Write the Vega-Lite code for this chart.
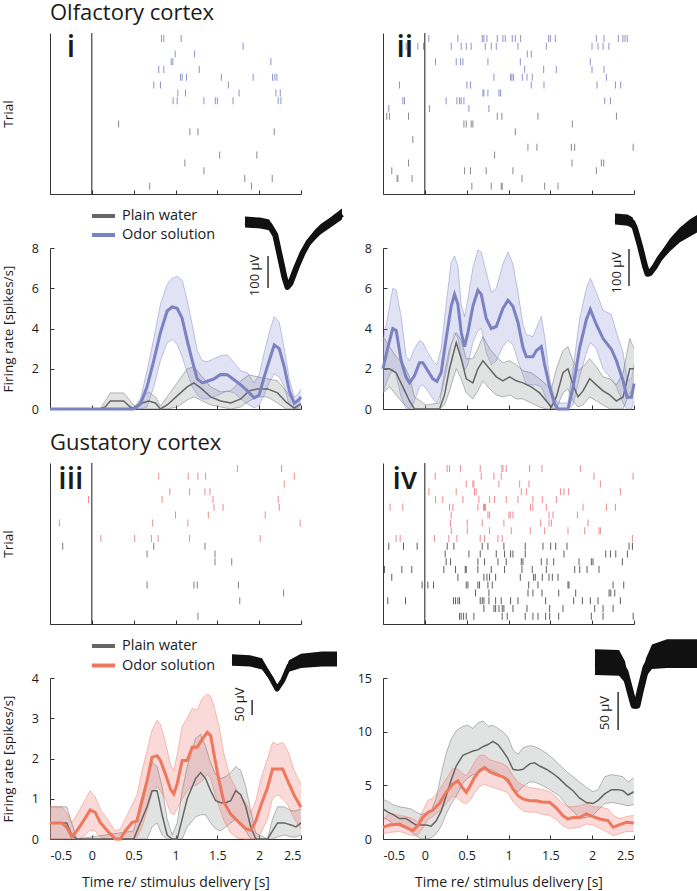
{
"$schema":"https://vega.github.io/schema/vega-lite/v6.json",
"padding":{"left":1,"top":1,"right":0,"bottom":0},
"bounds":"flush",
"columns":2,
"spacing":{"row":54,"column":82},
"resolve":{"scale":{"color":"independent","fill":"independent"},"legend":{"color":"independent","fill":"independent"}},
"config":{
 "font":"Open Sans",
 "view":{"stroke":null},
 "axis":{"grid":false,"domainColor":"#333","domainWidth":1,"tickColor":"#333","tickSize":-4,"labelColor":"#1a1a1a","labelFontSize":12.5,"titleColor":"#1a1a1a","titleFontSize":13.5,"titleFontWeight":"normal"},
 "axisX":{"labelPadding":14.5},
 "axisY":{"labelPadding":15.5}
},
"datasets":{
"raster":[
{"p":"i","k":1,"c":"o","t":0.832},{"p":"i","k":1,"c":"o","t":0.86},{"p":"i","k":1,"c":"o","t":1.068},
{"p":"i","k":2,"c":"o","t":1.808},
{"p":"i","k":3,"c":"o","t":0.996},{"p":"i","k":3,"c":"o","t":1.228},
{"p":"i","k":4,"c":"o","t":0.948},{"p":"i","k":4,"c":"o","t":0.968},{"p":"i","k":4,"c":"o","t":2.14},
{"p":"i","k":5,"c":"o","t":0.8},{"p":"i","k":5,"c":"o","t":0.86},{"p":"i","k":5,"c":"o","t":1.284},
{"p":"i","k":6,"c":"o","t":1.06},{"p":"i","k":6,"c":"o","t":1.08},{"p":"i","k":6,"c":"o","t":1.132},{"p":"i","k":6,"c":"o","t":1.548},{"p":"i","k":6,"c":"o","t":1.928},{"p":"i","k":6,"c":"o","t":2.16},{"p":"i","k":6,"c":"o","t":2.188},{"p":"i","k":6,"c":"o","t":2.212},
{"p":"i","k":7,"c":"o","t":0.74},{"p":"i","k":7,"c":"o","t":0.82},{"p":"i","k":7,"c":"o","t":1.632},
{"p":"i","k":8,"c":"o","t":1.028},{"p":"i","k":8,"c":"o","t":1.12},{"p":"i","k":8,"c":"o","t":1.76},{"p":"i","k":8,"c":"o","t":2.2},{"p":"i","k":8,"c":"o","t":2.252},
{"p":"i","k":9,"c":"o","t":0.972},{"p":"i","k":9,"c":"o","t":1.02},{"p":"i","k":9,"c":"o","t":1.34},{"p":"i","k":9,"c":"o","t":1.476},{"p":"i","k":9,"c":"o","t":1.5},{"p":"i","k":9,"c":"o","t":1.688},{"p":"i","k":9,"c":"o","t":2.228},{"p":"i","k":9,"c":"o","t":2.26},
{"p":"i","k":12,"c":"w","t":0.32},
{"p":"i","k":13,"c":"w","t":1.172},{"p":"i","k":13,"c":"w","t":1.268},{"p":"i","k":13,"c":"w","t":2.18},
{"p":"i","k":16,"c":"w","t":1.528},{"p":"i","k":16,"c":"w","t":1.972},
{"p":"i","k":17,"c":"w","t":1.112},
{"p":"i","k":18,"c":"w","t":1.34},
{"p":"i","k":19,"c":"w","t":1.828},{"p":"i","k":19,"c":"w","t":2.156},
{"p":"i","k":20,"c":"w","t":0.692},{"p":"i","k":20,"c":"w","t":1.908},

{"p":"ii","k":1,"c":"o","t":0.048},{"p":"ii","k":1,"c":"o","t":0.395},{"p":"ii","k":1,"c":"o","t":0.686},{"p":"ii","k":1,"c":"o","t":0.706},{"p":"ii","k":1,"c":"o","t":0.742},{"p":"ii","k":1,"c":"o","t":0.866},{"p":"ii","k":1,"c":"o","t":0.933},{"p":"ii","k":1,"c":"o","t":0.961},{"p":"ii","k":1,"c":"o","t":1.045},{"p":"ii","k":1,"c":"o","t":1.081},{"p":"ii","k":1,"c":"o","t":1.145},{"p":"ii","k":1,"c":"o","t":1.48},{"p":"ii","k":1,"c":"o","t":1.5},{"p":"ii","k":1,"c":"o","t":1.56},{"p":"ii","k":1,"c":"o","t":2.05},{"p":"ii","k":1,"c":"o","t":2.142},{"p":"ii","k":1,"c":"o","t":2.313},{"p":"ii","k":1,"c":"o","t":2.367},{"p":"ii","k":1,"c":"o","t":2.393},{"p":"ii","k":1,"c":"o","t":2.42},
{"p":"ii","k":2,"c":"o","t":-0.223},{"p":"ii","k":2,"c":"o","t":-0.183},{"p":"ii","k":2,"c":"o","t":-0.084},{"p":"ii","k":2,"c":"o","t":-0.016},{"p":"ii","k":2,"c":"o","t":0.315},{"p":"ii","k":2,"c":"o","t":0.435},{"p":"ii","k":2,"c":"o","t":0.495},{"p":"ii","k":2,"c":"o","t":0.554},{"p":"ii","k":2,"c":"o","t":0.722},{"p":"ii","k":2,"c":"o","t":0.794},{"p":"ii","k":2,"c":"o","t":0.854},{"p":"ii","k":2,"c":"o","t":1.113},{"p":"ii","k":2,"c":"o","t":1.452},{"p":"ii","k":2,"c":"o","t":1.998},{"p":"ii","k":2,"c":"o","t":2.07},{"p":"ii","k":2,"c":"o","t":2.13},{"p":"ii","k":2,"c":"o","t":2.2},
{"p":"ii","k":3,"c":"o","t":1.224},{"p":"ii","k":3,"c":"o","t":1.272},
{"p":"ii","k":4,"c":"o","t":0.128},{"p":"ii","k":4,"c":"o","t":0.375},{"p":"ii","k":4,"c":"o","t":0.427},{"p":"ii","k":4,"c":"o","t":0.455},{"p":"ii","k":4,"c":"o","t":0.754},{"p":"ii","k":4,"c":"o","t":1.141},{"p":"ii","k":4,"c":"o","t":1.978},
{"p":"ii","k":5,"c":"o","t":1.193},{"p":"ii","k":5,"c":"o","t":1.42},{"p":"ii","k":5,"c":"o","t":1.572},{"p":"ii","k":5,"c":"o","t":1.998},{"p":"ii","k":5,"c":"o","t":2.142},
{"p":"ii","k":6,"c":"o","t":0.826},{"p":"ii","k":6,"c":"o","t":1.025},{"p":"ii","k":6,"c":"o","t":1.041},{"p":"ii","k":6,"c":"o","t":1.061},{"p":"ii","k":6,"c":"o","t":1.165},{"p":"ii","k":6,"c":"o","t":1.221},{"p":"ii","k":6,"c":"o","t":1.284},{"p":"ii","k":6,"c":"o","t":2.17},
{"p":"ii","k":7,"c":"o","t":-0.303},{"p":"ii","k":7,"c":"o","t":0.503},{"p":"ii","k":7,"c":"o","t":0.546},{"p":"ii","k":7,"c":"o","t":1.272},{"p":"ii","k":7,"c":"o","t":1.424},{"p":"ii","k":7,"c":"o","t":2.058},{"p":"ii","k":7,"c":"o","t":2.278},{"p":"ii","k":7,"c":"o","t":2.341},
{"p":"ii","k":8,"c":"o","t":0.694},{"p":"ii","k":8,"c":"o","t":0.706},{"p":"ii","k":8,"c":"o","t":0.754},{"p":"ii","k":8,"c":"o","t":0.886},{"p":"ii","k":8,"c":"o","t":0.905},
{"p":"ii","k":9,"c":"o","t":-0.263},{"p":"ii","k":9,"c":"o","t":-0.243},{"p":"ii","k":9,"c":"o","t":0.255},{"p":"ii","k":9,"c":"o","t":0.383},{"p":"ii","k":9,"c":"o","t":0.415},{"p":"ii","k":9,"c":"o","t":0.435},{"p":"ii","k":9,"c":"o","t":0.467},{"p":"ii","k":9,"c":"o","t":2.15},{"p":"ii","k":9,"c":"o","t":2.218},
{"p":"ii","k":10,"c":"o","t":-0.431},{"p":"ii","k":10,"c":"o","t":0.056},{"p":"ii","k":10,"c":"o","t":0.527},{"p":"ii","k":10,"c":"o","t":0.766},
{"p":"ii","k":11,"c":"w","t":-0.455},{"p":"ii","k":11,"c":"w","t":-0.423},{"p":"ii","k":11,"c":"w","t":-0.195},{"p":"ii","k":11,"c":"w","t":0.866},{"p":"ii","k":11,"c":"w","t":0.921},{"p":"ii","k":11,"c":"w","t":1.352},{"p":"ii","k":11,"c":"w","t":2.29},
{"p":"ii","k":12,"c":"w","t":0.467},{"p":"ii","k":12,"c":"w","t":0.495},{"p":"ii","k":12,"c":"w","t":0.554},{"p":"ii","k":12,"c":"w","t":0.574},{"p":"ii","k":12,"c":"w","t":1.763},
{"p":"ii","k":13,"c":"w","t":1.081},
{"p":"ii","k":14,"c":"w","t":-0.144},
{"p":"ii","k":15,"c":"w","t":1.232},{"p":"ii","k":15,"c":"w","t":1.34},{"p":"ii","k":15,"c":"w","t":1.751},{"p":"ii","k":15,"c":"w","t":1.791},{"p":"ii","k":15,"c":"w","t":2.49},
{"p":"ii","k":16,"c":"w","t":0.834},
{"p":"ii","k":17,"c":"w","t":-0.195},{"p":"ii","k":17,"c":"w","t":1.759},{"p":"ii","k":17,"c":"w","t":2.11},{"p":"ii","k":17,"c":"w","t":2.138},
{"p":"ii","k":18,"c":"w","t":-0.395},{"p":"ii","k":18,"c":"w","t":0.475},{"p":"ii","k":18,"c":"w","t":0.546},{"p":"ii","k":18,"c":"w","t":0.734},{"p":"ii","k":18,"c":"w","t":1.053},{"p":"ii","k":18,"c":"w","t":2.05},
{"p":"ii","k":19,"c":"w","t":-0.331},{"p":"ii","k":19,"c":"w","t":-0.323},{"p":"ii","k":19,"c":"w","t":-0.152},{"p":"ii","k":19,"c":"w","t":1.161},
{"p":"ii","k":20,"c":"w","t":0.562},{"p":"ii","k":20,"c":"w","t":0.794},{"p":"ii","k":20,"c":"w","t":0.913},{"p":"ii","k":20,"c":"w","t":0.925},{"p":"ii","k":20,"c":"w","t":1.432},{"p":"ii","k":20,"c":"w","t":1.592},

{"p":"iii","k":1,"c":"o","t":1.74},{"p":"iii","k":1,"c":"o","t":2.268},
{"p":"iii","k":2,"c":"o","t":0.8},{"p":"iii","k":2,"c":"o","t":1.152},{"p":"iii","k":2,"c":"o","t":1.268},{"p":"iii","k":2,"c":"o","t":1.36},{"p":"iii","k":2,"c":"o","t":2.42},
{"p":"iii","k":3,"c":"o","t":2.3},
{"p":"iii","k":4,"c":"o","t":0.932},{"p":"iii","k":4,"c":"o","t":1.168},{"p":"iii","k":4,"c":"o","t":1.352},{"p":"iii","k":4,"c":"o","t":1.412},
{"p":"iii","k":5,"c":"o","t":-0.04},{"p":"iii","k":5,"c":"o","t":0.84},{"p":"iii","k":5,"c":"o","t":1.448},{"p":"iii","k":5,"c":"o","t":2.228},
{"p":"iii","k":6,"c":"o","t":1.46},{"p":"iii","k":6,"c":"o","t":1.568},{"p":"iii","k":6,"c":"o","t":2.24},
{"p":"iii","k":7,"c":"o","t":1.0},{"p":"iii","k":7,"c":"o","t":1.392},{"p":"iii","k":7,"c":"o","t":2.072},
{"p":"iii","k":8,"c":"o","t":-0.388},{"p":"iii","k":8,"c":"o","t":0.728},{"p":"iii","k":8,"c":"o","t":1.148},{"p":"iii","k":8,"c":"o","t":2.49},
{"p":"iii","k":10,"c":"o","t":0.108},{"p":"iii","k":10,"c":"o","t":0.512},{"p":"iii","k":10,"c":"o","t":0.712},{"p":"iii","k":10,"c":"o","t":0.792},{"p":"iii","k":10,"c":"o","t":1.168},{"p":"iii","k":10,"c":"o","t":2.012},
{"p":"iii","k":11,"c":"w","t":-0.348},{"p":"iii","k":11,"c":"w","t":0.74},{"p":"iii","k":11,"c":"w","t":1.352},
{"p":"iii","k":12,"c":"w","t":0.66},{"p":"iii","k":12,"c":"w","t":1.472},
{"p":"iii","k":13,"c":"w","t":1.472},{"p":"iii","k":13,"c":"w","t":1.672},
{"p":"iii","k":16,"c":"w","t":0.66},{"p":"iii","k":16,"c":"w","t":1.22},{"p":"iii","k":16,"c":"w","t":1.26},{"p":"iii","k":16,"c":"w","t":1.752},
{"p":"iii","k":17,"c":"w","t":2.292},
{"p":"iii","k":18,"c":"w","t":1.768},
{"p":"iii","k":20,"c":"w","t":1.268},

{"p":"iv","k":1,"c":"o","t":0.267},{"p":"iv","k":1,"c":"o","t":0.295},{"p":"iv","k":1,"c":"o","t":0.427},{"p":"iv","k":1,"c":"o","t":0.662},{"p":"iv","k":1,"c":"o","t":0.921},{"p":"iv","k":1,"c":"o","t":0.933},{"p":"iv","k":1,"c":"o","t":0.973},{"p":"iv","k":1,"c":"o","t":1.252},{"p":"iv","k":1,"c":"o","t":1.4},{"p":"iv","k":1,"c":"o","t":1.863},
{"p":"iv","k":2,"c":"o","t":0.124},{"p":"iv","k":2,"c":"o","t":0.674},{"p":"iv","k":2,"c":"o","t":0.826},{"p":"iv","k":2,"c":"o","t":0.913},{"p":"iv","k":2,"c":"o","t":2.022},{"p":"iv","k":2,"c":"o","t":2.489},
{"p":"iv","k":3,"c":"o","t":0.495},{"p":"iv","k":3,"c":"o","t":0.574},{"p":"iv","k":3,"c":"o","t":0.586},{"p":"iv","k":3,"c":"o","t":0.886},{"p":"iv","k":3,"c":"o","t":1.133},{"p":"iv","k":3,"c":"o","t":1.245},{"p":"iv","k":3,"c":"o","t":2.098},
{"p":"iv","k":4,"c":"o","t":0.048},{"p":"iv","k":4,"c":"o","t":0.375},{"p":"iv","k":4,"c":"o","t":0.594},{"p":"iv","k":4,"c":"o","t":0.614},{"p":"iv","k":4,"c":"o","t":1.153},{"p":"iv","k":4,"c":"o","t":1.213},{"p":"iv","k":4,"c":"o","t":1.623},{"p":"iv","k":4,"c":"o","t":1.663},{"p":"iv","k":4,"c":"o","t":1.719},{"p":"iv","k":4,"c":"o","t":2.337},
{"p":"iv","k":5,"c":"o","t":0.128},{"p":"iv","k":5,"c":"o","t":0.215},{"p":"iv","k":5,"c":"o","t":0.455},{"p":"iv","k":5,"c":"o","t":0.646},{"p":"iv","k":5,"c":"o","t":0.774},{"p":"iv","k":5,"c":"o","t":0.834},{"p":"iv","k":5,"c":"o","t":0.973},{"p":"iv","k":5,"c":"o","t":1.113},{"p":"iv","k":5,"c":"o","t":1.292},{"p":"iv","k":5,"c":"o","t":1.404},{"p":"iv","k":5,"c":"o","t":1.572},
{"p":"iv","k":6,"c":"o","t":-0.415},{"p":"iv","k":6,"c":"o","t":-0.263},{"p":"iv","k":6,"c":"o","t":0.295},{"p":"iv","k":6,"c":"o","t":0.335},{"p":"iv","k":6,"c":"o","t":0.634},{"p":"iv","k":6,"c":"o","t":0.702},{"p":"iv","k":6,"c":"o","t":0.714},{"p":"iv","k":6,"c":"o","t":0.726},{"p":"iv","k":6,"c":"o","t":1.264},{"p":"iv","k":6,"c":"o","t":1.292},{"p":"iv","k":6,"c":"o","t":1.452},{"p":"iv","k":6,"c":"o","t":1.891},{"p":"iv","k":6,"c":"o","t":2.17},{"p":"iv","k":6,"c":"o","t":2.278},
{"p":"iv","k":7,"c":"o","t":0.315},{"p":"iv","k":7,"c":"o","t":0.754},{"p":"iv","k":7,"c":"o","t":0.774},{"p":"iv","k":7,"c":"o","t":1.005},{"p":"iv","k":7,"c":"o","t":1.021},{"p":"iv","k":7,"c":"o","t":1.053},{"p":"iv","k":7,"c":"o","t":1.484},{"p":"iv","k":7,"c":"o","t":1.532},{"p":"iv","k":7,"c":"o","t":1.823},
{"p":"iv","k":8,"c":"o","t":0.307},{"p":"iv","k":8,"c":"o","t":0.507},{"p":"iv","k":8,"c":"o","t":0.686},{"p":"iv","k":8,"c":"o","t":0.945},{"p":"iv","k":8,"c":"o","t":1.384},{"p":"iv","k":8,"c":"o","t":1.484},{"p":"iv","k":8,"c":"o","t":1.512},{"p":"iv","k":8,"c":"o","t":1.951},
{"p":"iv","k":9,"c":"o","t":0.315},{"p":"iv","k":9,"c":"o","t":0.507},{"p":"iv","k":9,"c":"o","t":0.774},{"p":"iv","k":9,"c":"o","t":1.033},{"p":"iv","k":9,"c":"o","t":1.26},{"p":"iv","k":9,"c":"o","t":1.432},{"p":"iv","k":9,"c":"o","t":1.711},{"p":"iv","k":9,"c":"o","t":1.911},{"p":"iv","k":9,"c":"o","t":2.082},{"p":"iv","k":9,"c":"o","t":2.098},
{"p":"iv","k":10,"c":"o","t":-0.343},{"p":"iv","k":10,"c":"o","t":-0.295},{"p":"iv","k":10,"c":"o","t":0.116},{"p":"iv","k":10,"c":"o","t":0.287},{"p":"iv","k":10,"c":"o","t":0.383},{"p":"iv","k":10,"c":"o","t":0.662},{"p":"iv","k":10,"c":"o","t":0.714},{"p":"iv","k":10,"c":"o","t":0.874},{"p":"iv","k":10,"c":"o","t":0.925},{"p":"iv","k":10,"c":"o","t":2.481},
{"p":"iv","k":11,"c":"w","t":-0.431},{"p":"iv","k":11,"c":"w","t":-0.255},{"p":"iv","k":11,"c":"w","t":-0.092},{"p":"iv","k":11,"c":"w","t":0.267},{"p":"iv","k":11,"c":"w","t":0.347},{"p":"iv","k":11,"c":"w","t":0.686},{"p":"iv","k":11,"c":"w","t":0.754},{"p":"iv","k":11,"c":"w","t":0.945},{"p":"iv","k":11,"c":"w","t":1.2},{"p":"iv","k":11,"c":"w","t":1.412},{"p":"iv","k":11,"c":"w","t":1.504},{"p":"iv","k":11,"c":"w","t":1.564},{"p":"iv","k":11,"c":"w","t":1.699},{"p":"iv","k":11,"c":"w","t":2.441},{"p":"iv","k":11,"c":"w","t":2.481},
{"p":"iv","k":12,"c":"w","t":0.243},{"p":"iv","k":12,"c":"w","t":0.527},{"p":"iv","k":12,"c":"w","t":0.662},{"p":"iv","k":12,"c":"w","t":0.854},{"p":"iv","k":12,"c":"w","t":0.953},{"p":"iv","k":12,"c":"w","t":1.025},{"p":"iv","k":12,"c":"w","t":1.053},{"p":"iv","k":12,"c":"w","t":1.2},{"p":"iv","k":12,"c":"w","t":1.663},{"p":"iv","k":12,"c":"w","t":2.162},{"p":"iv","k":12,"c":"w","t":2.218},{"p":"iv","k":12,"c":"w","t":2.282},{"p":"iv","k":12,"c":"w","t":2.421},
{"p":"iv","k":13,"c":"w","t":0.255},{"p":"iv","k":13,"c":"w","t":0.307},{"p":"iv","k":13,"c":"w","t":0.634},{"p":"iv","k":13,"c":"w","t":0.714},{"p":"iv","k":13,"c":"w","t":0.874},{"p":"iv","k":13,"c":"w","t":0.973},{"p":"iv","k":13,"c":"w","t":1.153},{"p":"iv","k":13,"c":"w","t":1.173},{"p":"iv","k":13,"c":"w","t":1.392},{"p":"iv","k":13,"c":"w","t":1.46},{"p":"iv","k":13,"c":"w","t":1.54},{"p":"iv","k":13,"c":"w","t":1.843},{"p":"iv","k":13,"c":"w","t":1.99},{"p":"iv","k":13,"c":"w","t":2.01},{"p":"iv","k":13,"c":"w","t":2.361},
{"p":"iv","k":14,"c":"w","t":-0.483},{"p":"iv","k":14,"c":"w","t":-0.275},{"p":"iv","k":14,"c":"w","t":-0.156},{"p":"iv","k":14,"c":"w","t":0.227},{"p":"iv","k":14,"c":"w","t":0.367},{"p":"iv","k":14,"c":"w","t":0.483},{"p":"iv","k":14,"c":"w","t":0.495},{"p":"iv","k":14,"c":"w","t":0.634},{"p":"iv","k":14,"c":"w","t":0.794},{"p":"iv","k":14,"c":"w","t":0.953},{"p":"iv","k":14,"c":"w","t":1.161},{"p":"iv","k":14,"c":"w","t":1.284},{"p":"iv","k":14,"c":"w","t":1.452},{"p":"iv","k":14,"c":"w","t":1.791},{"p":"iv","k":14,"c":"w","t":1.851},{"p":"iv","k":14,"c":"w","t":1.939},{"p":"iv","k":14,"c":"w","t":2.082},
{"p":"iv","k":15,"c":"w","t":-0.395},{"p":"iv","k":15,"c":"w","t":0.395},{"p":"iv","k":15,"c":"w","t":0.706},{"p":"iv","k":15,"c":"w","t":0.742},{"p":"iv","k":15,"c":"w","t":0.774},{"p":"iv","k":15,"c":"w","t":0.846},{"p":"iv","k":15,"c":"w","t":1.141},{"p":"iv","k":15,"c":"w","t":1.3},{"p":"iv","k":15,"c":"w","t":1.32},{"p":"iv","k":15,"c":"w","t":1.404},{"p":"iv","k":15,"c":"w","t":1.484},{"p":"iv","k":15,"c":"w","t":1.524},{"p":"iv","k":15,"c":"w","t":1.592},
{"p":"iv","k":16,"c":"w","t":-0.032},{"p":"iv","k":16,"c":"w","t":0.036},{"p":"iv","k":16,"c":"w","t":0.104},{"p":"iv","k":16,"c":"w","t":0.495},{"p":"iv","k":16,"c":"w","t":0.515},{"p":"iv","k":16,"c":"w","t":0.634},{"p":"iv","k":16,"c":"w","t":0.654},{"p":"iv","k":16,"c":"w","t":0.754},{"p":"iv","k":16,"c":"w","t":0.806},{"p":"iv","k":16,"c":"w","t":1.241},{"p":"iv","k":16,"c":"w","t":1.352},{"p":"iv","k":16,"c":"w","t":1.711},{"p":"iv","k":16,"c":"w","t":1.723},{"p":"iv","k":16,"c":"w","t":2.25},{"p":"iv","k":16,"c":"w","t":2.377},
{"p":"iv","k":17,"c":"w","t":0.606},{"p":"iv","k":17,"c":"w","t":0.766},{"p":"iv","k":17,"c":"w","t":1.233},{"p":"iv","k":17,"c":"w","t":1.292},{"p":"iv","k":17,"c":"w","t":1.4},{"p":"iv","k":17,"c":"w","t":1.6},{"p":"iv","k":17,"c":"w","t":1.803},{"p":"iv","k":17,"c":"w","t":2.202},{"p":"iv","k":17,"c":"w","t":2.222},{"p":"iv","k":17,"c":"w","t":2.27},
{"p":"iv","k":18,"c":"w","t":-0.443},{"p":"iv","k":18,"c":"w","t":-0.231},{"p":"iv","k":18,"c":"w","t":0.343},{"p":"iv","k":18,"c":"w","t":0.367},{"p":"iv","k":18,"c":"w","t":0.395},{"p":"iv","k":18,"c":"w","t":0.415},{"p":"iv","k":18,"c":"w","t":0.662},{"p":"iv","k":18,"c":"w","t":0.686},{"p":"iv","k":18,"c":"w","t":0.706},{"p":"iv","k":18,"c":"w","t":0.766},{"p":"iv","k":18,"c":"w","t":0.846},{"p":"iv","k":18,"c":"w","t":0.913},{"p":"iv","k":18,"c":"w","t":1.025},{"p":"iv","k":18,"c":"w","t":1.113},{"p":"iv","k":18,"c":"w","t":1.444},{"p":"iv","k":18,"c":"w","t":1.779},{"p":"iv","k":18,"c":"w","t":1.883},{"p":"iv","k":18,"c":"w","t":1.978},{"p":"iv","k":18,"c":"w","t":2.07},{"p":"iv","k":18,"c":"w","t":2.337},
{"p":"iv","k":19,"c":"w","t":0.706},{"p":"iv","k":19,"c":"w","t":0.826},{"p":"iv","k":19,"c":"w","t":0.846},{"p":"iv","k":19,"c":"w","t":0.886},{"p":"iv","k":19,"c":"w","t":0.925},{"p":"iv","k":19,"c":"w","t":0.945},{"p":"iv","k":19,"c":"w","t":1.053},{"p":"iv","k":19,"c":"w","t":1.221},{"p":"iv","k":19,"c":"w","t":1.492},{"p":"iv","k":19,"c":"w","t":1.651},{"p":"iv","k":19,"c":"w","t":2.03},{"p":"iv","k":19,"c":"w","t":2.13},{"p":"iv","k":19,"c":"w","t":2.25},
{"p":"iv","k":20,"c":"w","t":0.415},{"p":"iv","k":20,"c":"w","t":0.435},{"p":"iv","k":20,"c":"w","t":0.463},{"p":"iv","k":20,"c":"w","t":0.495},{"p":"iv","k":20,"c":"w","t":0.586},{"p":"iv","k":20,"c":"w","t":0.925},{"p":"iv","k":20,"c":"w","t":0.985},{"p":"iv","k":20,"c":"w","t":1.2},{"p":"iv","k":20,"c":"w","t":1.292},{"p":"iv","k":20,"c":"w","t":1.352},{"p":"iv","k":20,"c":"w","t":1.444},{"p":"iv","k":20,"c":"w","t":1.492},{"p":"iv","k":20,"c":"w","t":1.6},{"p":"iv","k":20,"c":"w","t":1.99},{"p":"iv","k":20,"c":"w","t":2.13},{"p":"iv","k":20,"c":"w","t":2.49}
],
"rate":[
{"p":"i","c":"w","t":-0.5,"m":0,"lo":0,"hi":0},{"p":"i","c":"w","t":0.1,"m":0,"lo":0,"hi":0},{"p":"i","c":"w","t":0.16,"m":0.1,"lo":0,"hi":0.4},{"p":"i","c":"w","t":0.22,"m":0.4,"lo":0,"hi":0.8},{"p":"i","c":"w","t":0.38,"m":0.4,"lo":0,"hi":0.8},{"p":"i","c":"w","t":0.46,"m":0.1,"lo":0,"hi":0.4},{"p":"i","c":"w","t":0.52,"m":0,"lo":0,"hi":0.1},{"p":"i","c":"w","t":0.6,"m":0.3,"lo":0,"hi":0.55},{"p":"i","c":"w","t":0.68,"m":0.4,"lo":0,"hi":0.85},{"p":"i","c":"w","t":0.76,"m":0.3,"lo":0,"hi":0.6},{"p":"i","c":"w","t":0.82,"m":0,"lo":0,"hi":0.15},{"p":"i","c":"w","t":0.9,"m":0.2,"lo":0,"hi":0.6},{"p":"i","c":"w","t":1.02,"m":0.65,"lo":0.1,"hi":1.3},{"p":"i","c":"w","t":1.14,"m":1.1,"lo":0.45,"hi":2.0},{"p":"i","c":"w","t":1.22,"m":1.3,"lo":0.6,"hi":2.1},{"p":"i","c":"w","t":1.3,"m":1.05,"lo":0.45,"hi":1.7},{"p":"i","c":"w","t":1.42,"m":0.6,"lo":0.2,"hi":1.1},{"p":"i","c":"w","t":1.54,"m":0.4,"lo":0.1,"hi":0.85},{"p":"i","c":"w","t":1.66,"m":0.3,"lo":0,"hi":0.9},{"p":"i","c":"w","t":1.78,"m":0.5,"lo":0.1,"hi":1.4},{"p":"i","c":"w","t":1.88,"m":0.9,"lo":0.4,"hi":1.7},{"p":"i","c":"w","t":1.98,"m":1.0,"lo":0.6,"hi":1.6},{"p":"i","c":"w","t":2.1,"m":1.0,"lo":0.6,"hi":1.5},{"p":"i","c":"w","t":2.22,"m":0.8,"lo":0.3,"hi":1.4},{"p":"i","c":"w","t":2.32,"m":0.35,"lo":0,"hi":0.9},{"p":"i","c":"w","t":2.42,"m":0.05,"lo":0,"hi":0.3},{"p":"i","c":"w","t":2.5,"m":0.25,"lo":0,"hi":0.6},
{"p":"i","c":"o","t":-0.5,"m":0,"lo":0,"hi":0},{"p":"i","c":"o","t":-0.1,"m":0,"lo":0,"hi":0},{"p":"i","c":"o","t":0.3,"m":0,"lo":0,"hi":0},{"p":"i","c":"o","t":0.5,"m":0,"lo":0,"hi":0.05},{"p":"i","c":"o","t":0.58,"m":0.25,"lo":0,"hi":0.5},{"p":"i","c":"o","t":0.66,"m":1.1,"lo":0.1,"hi":1.9},{"p":"i","c":"o","t":0.74,"m":2.4,"lo":1.1,"hi":3.5},{"p":"i","c":"o","t":0.82,"m":3.8,"lo":2.4,"hi":5.2},{"p":"i","c":"o","t":0.9,"m":4.87,"lo":3.3,"hi":6.2},{"p":"i","c":"o","t":0.96,"m":5.07,"lo":3.45,"hi":6.5},{"p":"i","c":"o","t":1.02,"m":5.0,"lo":3.2,"hi":6.6},{"p":"i","c":"o","t":1.08,"m":4.5,"lo":2.6,"hi":6.4},{"p":"i","c":"o","t":1.14,"m":3.4,"lo":1.8,"hi":5.4},{"p":"i","c":"o","t":1.2,"m":2.4,"lo":1.1,"hi":4.2},{"p":"i","c":"o","t":1.26,"m":1.5,"lo":0.7,"hi":2.9},{"p":"i","c":"o","t":1.32,"m":1.3,"lo":0.5,"hi":2.4},{"p":"i","c":"o","t":1.38,"m":1.38,"lo":0.5,"hi":2.35},{"p":"i","c":"o","t":1.46,"m":1.5,"lo":0.6,"hi":2.5},{"p":"i","c":"o","t":1.54,"m":1.72,"lo":0.75,"hi":2.65},{"p":"i","c":"o","t":1.62,"m":1.7,"lo":0.9,"hi":2.7},{"p":"i","c":"o","t":1.7,"m":1.45,"lo":0.8,"hi":2.3},{"p":"i","c":"o","t":1.78,"m":1.2,"lo":0.5,"hi":1.9},{"p":"i","c":"o","t":1.86,"m":0.9,"lo":0.25,"hi":1.8},{"p":"i","c":"o","t":1.94,"m":0.55,"lo":0.05,"hi":1.3},{"p":"i","c":"o","t":2.0,"m":0.7,"lo":0.2,"hi":1.7},{"p":"i","c":"o","t":2.06,"m":1.6,"lo":0.7,"hi":2.8},{"p":"i","c":"o","t":2.12,"m":2.4,"lo":1.3,"hi":3.8},{"p":"i","c":"o","t":2.18,"m":3.18,"lo":1.75,"hi":4.6},{"p":"i","c":"o","t":2.24,"m":3.0,"lo":1.6,"hi":4.3},{"p":"i","c":"o","t":2.3,"m":2.1,"lo":1.1,"hi":3.0},{"p":"i","c":"o","t":2.36,"m":0.9,"lo":0.2,"hi":1.5},{"p":"i","c":"o","t":2.42,"m":0.28,"lo":0,"hi":0.6},{"p":"i","c":"o","t":2.47,"m":0.45,"lo":0.05,"hi":0.75},{"p":"i","c":"o","t":2.5,"m":0.6,"lo":0.2,"hi":1.0},

{"p":"ii","c":"w","t":-0.5,"m":2.0,"lo":0.8,"hi":3.6},{"p":"ii","c":"w","t":-0.423,"m":2.0,"lo":1.1,"hi":3.1},{"p":"ii","c":"w","t":-0.343,"m":1.8,"lo":0.7,"hi":2.6},{"p":"ii","c":"w","t":-0.263,"m":1.1,"lo":0.3,"hi":2.3},{"p":"ii","c":"w","t":-0.183,"m":0.4,"lo":0,"hi":1.6},{"p":"ii","c":"w","t":-0.124,"m":0,"lo":0,"hi":0.6},{"p":"ii","c":"w","t":0.016,"m":0,"lo":0,"hi":0.2},{"p":"ii","c":"w","t":0.176,"m":0,"lo":0,"hi":0.3},{"p":"ii","c":"w","t":0.235,"m":0.7,"lo":0.2,"hi":1.8},{"p":"ii","c":"w","t":0.295,"m":2.0,"lo":0.9,"hi":3.0},{"p":"ii","c":"w","t":0.375,"m":3.3,"lo":2.0,"hi":3.8},{"p":"ii","c":"w","t":0.435,"m":2.5,"lo":1.5,"hi":3.4},{"p":"ii","c":"w","t":0.495,"m":1.5,"lo":0.8,"hi":2.5},{"p":"ii","c":"w","t":0.574,"m":1.3,"lo":0.5,"hi":2.5},{"p":"ii","c":"w","t":0.634,"m":2.0,"lo":0.9,"hi":3.0},{"p":"ii","c":"w","t":0.694,"m":2.4,"lo":1.4,"hi":3.6},{"p":"ii","c":"w","t":0.774,"m":2.0,"lo":1.0,"hi":3.0},{"p":"ii","c":"w","t":0.854,"m":1.6,"lo":0.7,"hi":2.6},{"p":"ii","c":"w","t":0.933,"m":1.4,"lo":0.6,"hi":2.3},{"p":"ii","c":"w","t":1.013,"m":1.6,"lo":0.7,"hi":2.4},{"p":"ii","c":"w","t":1.093,"m":1.4,"lo":0.5,"hi":2.2},{"p":"ii","c":"w","t":1.173,"m":1.3,"lo":0.5,"hi":1.9},{"p":"ii","c":"w","t":1.272,"m":1.1,"lo":0.3,"hi":1.8},{"p":"ii","c":"w","t":1.372,"m":0.8,"lo":0.1,"hi":1.5},{"p":"ii","c":"w","t":1.452,"m":0.4,"lo":0,"hi":1.2},{"p":"ii","c":"w","t":1.512,"m":0.1,"lo":0,"hi":1.0},{"p":"ii","c":"w","t":1.572,"m":0.6,"lo":0,"hi":2.0},{"p":"ii","c":"w","t":1.651,"m":1.8,"lo":0.8,"hi":2.9},{"p":"ii","c":"w","t":1.711,"m":2.0,"lo":1.0,"hi":3.1},{"p":"ii","c":"w","t":1.771,"m":1.2,"lo":0.4,"hi":2.4},{"p":"ii","c":"w","t":1.831,"m":0.6,"lo":0.1,"hi":1.9},{"p":"ii","c":"w","t":1.891,"m":0.9,"lo":0.2,"hi":2.1},{"p":"ii","c":"w","t":1.97,"m":1.5,"lo":0.6,"hi":2.5},{"p":"ii","c":"w","t":2.05,"m":1.2,"lo":0.4,"hi":2.1},{"p":"ii","c":"w","t":2.13,"m":0.9,"lo":0.2,"hi":1.6},{"p":"ii","c":"w","t":2.21,"m":0.7,"lo":0,"hi":1.5},{"p":"ii","c":"w","t":2.29,"m":0.4,"lo":0,"hi":1.2},{"p":"ii","c":"w","t":2.37,"m":0.6,"lo":0,"hi":1.8},{"p":"ii","c":"w","t":2.449,"m":2.0,"lo":0.8,"hi":3.5},{"p":"ii","c":"w","t":2.5,"m":2.0,"lo":1.0,"hi":3.0},
{"p":"ii","c":"o","t":-0.5,"m":2.0,"lo":0.8,"hi":3.4},{"p":"ii","c":"o","t":-0.443,"m":3.05,"lo":1.5,"hi":4.6},{"p":"ii","c":"o","t":-0.383,"m":4.0,"lo":2.0,"hi":6.0},{"p":"ii","c":"o","t":-0.343,"m":3.9,"lo":1.7,"hi":5.9},{"p":"ii","c":"o","t":-0.283,"m":2.4,"lo":0.6,"hi":4.6},{"p":"ii","c":"o","t":-0.223,"m":1.57,"lo":0,"hi":2.6},{"p":"ii","c":"o","t":-0.183,"m":1.3,"lo":0,"hi":2.4},{"p":"ii","c":"o","t":-0.124,"m":1.65,"lo":0.4,"hi":3.0},{"p":"ii","c":"o","t":-0.064,"m":2.3,"lo":1.1,"hi":3.4},{"p":"ii","c":"o","t":-0.024,"m":2.3,"lo":1.2,"hi":3.3},{"p":"ii","c":"o","t":0.036,"m":1.9,"lo":0.9,"hi":2.8},{"p":"ii","c":"o","t":0.096,"m":1.5,"lo":0.5,"hi":2.4},{"p":"ii","c":"o","t":0.144,"m":1.37,"lo":0.3,"hi":2.2},{"p":"ii","c":"o","t":0.195,"m":1.8,"lo":0.8,"hi":3.0},{"p":"ii","c":"o","t":0.255,"m":3.5,"lo":1.8,"hi":5.2},{"p":"ii","c":"o","t":0.315,"m":5.1,"lo":3.2,"hi":7.3},{"p":"ii","c":"o","t":0.355,"m":5.7,"lo":3.8,"hi":7.6},{"p":"ii","c":"o","t":0.395,"m":5.2,"lo":3.5,"hi":7.1},{"p":"ii","c":"o","t":0.435,"m":3.8,"lo":2.6,"hi":5.2},{"p":"ii","c":"o","t":0.475,"m":3.1,"lo":1.9,"hi":4.6},{"p":"ii","c":"o","t":0.515,"m":3.8,"lo":2.2,"hi":5.5},{"p":"ii","c":"o","t":0.574,"m":5.1,"lo":3.3,"hi":7.0},{"p":"ii","c":"o","t":0.634,"m":5.9,"lo":3.9,"hi":7.9},{"p":"ii","c":"o","t":0.674,"m":5.7,"lo":4.0,"hi":7.8},{"p":"ii","c":"o","t":0.734,"m":4.5,"lo":2.8,"hi":6.8},{"p":"ii","c":"o","t":0.794,"m":4.0,"lo":2.2,"hi":5.8},{"p":"ii","c":"o","t":0.854,"m":4.1,"lo":2.4,"hi":6.0},{"p":"ii","c":"o","t":0.933,"m":5.0,"lo":3.1,"hi":7.2},{"p":"ii","c":"o","t":0.993,"m":5.4,"lo":3.4,"hi":7.8},{"p":"ii","c":"o","t":1.053,"m":5.1,"lo":3.2,"hi":7.2},{"p":"ii","c":"o","t":1.113,"m":4.3,"lo":2.4,"hi":5.8},{"p":"ii","c":"o","t":1.173,"m":3.05,"lo":1.7,"hi":4.2},{"p":"ii","c":"o","t":1.213,"m":2.6,"lo":1.2,"hi":3.7},{"p":"ii","c":"o","t":1.292,"m":2.6,"lo":1.2,"hi":3.6},{"p":"ii","c":"o","t":1.332,"m":2.9,"lo":1.2,"hi":4.0},{"p":"ii","c":"o","t":1.392,"m":3.1,"lo":1.1,"hi":4.6},{"p":"ii","c":"o","t":1.432,"m":2.2,"lo":0.7,"hi":3.6},{"p":"ii","c":"o","t":1.492,"m":1.07,"lo":0.1,"hi":1.5},{"p":"ii","c":"o","t":1.552,"m":0.25,"lo":0,"hi":0.5},{"p":"ii","c":"o","t":1.592,"m":0,"lo":0,"hi":0.3},{"p":"ii","c":"o","t":1.711,"m":0,"lo":0,"hi":0.3},{"p":"ii","c":"o","t":1.771,"m":1.07,"lo":0.2,"hi":2.0},{"p":"ii","c":"o","t":1.851,"m":3.05,"lo":1.6,"hi":4.5},{"p":"ii","c":"o","t":1.931,"m":4.45,"lo":2.8,"hi":6.0},{"p":"ii","c":"o","t":1.978,"m":4.95,"lo":3.3,"hi":6.5},{"p":"ii","c":"o","t":2.05,"m":4.2,"lo":3.0,"hi":5.8},{"p":"ii","c":"o","t":2.13,"m":3.5,"lo":2.0,"hi":4.9},{"p":"ii","c":"o","t":2.23,"m":2.97,"lo":1.5,"hi":4.7},{"p":"ii","c":"o","t":2.29,"m":2.4,"lo":1.1,"hi":3.8},{"p":"ii","c":"o","t":2.37,"m":1.4,"lo":0.3,"hi":2.8},{"p":"ii","c":"o","t":2.417,"m":0.58,"lo":0,"hi":1.4},{"p":"ii","c":"o","t":2.47,"m":0.58,"lo":0,"hi":1.5},{"p":"ii","c":"o","t":2.5,"m":1.27,"lo":0.4,"hi":2.2},

{"p":"iii","c":"w","t":-0.5,"m":0.4,"lo":0,"hi":0.8},{"p":"iii","c":"w","t":-0.3,"m":0.4,"lo":0,"hi":0.8},{"p":"iii","c":"w","t":-0.24,"m":0.1,"lo":0,"hi":0.4},{"p":"iii","c":"w","t":-0.18,"m":0,"lo":0,"hi":0},{"p":"iii","c":"w","t":0.5,"m":0,"lo":0,"hi":0.2},{"p":"iii","c":"w","t":0.58,"m":0.4,"lo":0,"hi":0.9},{"p":"iii","c":"w","t":0.66,"m":0.8,"lo":0,"hi":1.5},{"p":"iii","c":"w","t":0.72,"m":1.2,"lo":0.3,"hi":1.9},{"p":"iii","c":"w","t":0.78,"m":1.2,"lo":0.4,"hi":1.8},{"p":"iii","c":"w","t":0.84,"m":0.6,"lo":0.1,"hi":1.3},{"p":"iii","c":"w","t":0.9,"m":0.1,"lo":0,"hi":0.5},{"p":"iii","c":"w","t":0.96,"m":0,"lo":0,"hi":0.1},{"p":"iii","c":"w","t":1.02,"m":0,"lo":0,"hi":0.4},{"p":"iii","c":"w","t":1.08,"m":0.5,"lo":0,"hi":1.2},{"p":"iii","c":"w","t":1.14,"m":1.0,"lo":0.3,"hi":1.8},{"p":"iii","c":"w","t":1.24,"m":1.5,"lo":0.55,"hi":2.5},{"p":"iii","c":"w","t":1.3,"m":1.65,"lo":0.6,"hi":2.6},{"p":"iii","c":"w","t":1.36,"m":1.5,"lo":0.6,"hi":2.3},{"p":"iii","c":"w","t":1.42,"m":1.2,"lo":0.4,"hi":1.9},{"p":"iii","c":"w","t":1.48,"m":0.95,"lo":0.25,"hi":1.6},{"p":"iii","c":"w","t":1.54,"m":0.9,"lo":0.2,"hi":1.5},{"p":"iii","c":"w","t":1.6,"m":0.9,"lo":0.3,"hi":1.55},{"p":"iii","c":"w","t":1.66,"m":0.95,"lo":0.4,"hi":1.65},{"p":"iii","c":"w","t":1.72,"m":1.2,"lo":0.5,"hi":1.8},{"p":"iii","c":"w","t":1.78,"m":1.1,"lo":0.4,"hi":1.7},{"p":"iii","c":"w","t":1.84,"m":0.8,"lo":0.2,"hi":1.3},{"p":"iii","c":"w","t":1.9,"m":0.3,"lo":0,"hi":0.7},{"p":"iii","c":"w","t":1.96,"m":0,"lo":0,"hi":0.15},{"p":"iii","c":"w","t":2.1,"m":0,"lo":0,"hi":0},{"p":"iii","c":"w","t":2.16,"m":0.2,"lo":0,"hi":0.5},{"p":"iii","c":"w","t":2.22,"m":0.4,"lo":0.05,"hi":0.8},{"p":"iii","c":"w","t":2.3,"m":0.4,"lo":0.1,"hi":0.8},{"p":"iii","c":"w","t":2.38,"m":0.35,"lo":0.05,"hi":0.7},{"p":"iii","c":"w","t":2.44,"m":0.3,"lo":0.05,"hi":0.7},{"p":"iii","c":"w","t":2.5,"m":0.4,"lo":0.1,"hi":0.75},
{"p":"iii","c":"o","t":-0.5,"m":0.4,"lo":0,"hi":0.8},{"p":"iii","c":"o","t":-0.36,"m":0.4,"lo":0,"hi":0.8},{"p":"iii","c":"o","t":-0.3,"m":0.29,"lo":0,"hi":0.65},{"p":"iii","c":"o","t":-0.24,"m":0.06,"lo":0,"hi":0.4},{"p":"iii","c":"o","t":-0.18,"m":0.2,"lo":0,"hi":0.6},{"p":"iii","c":"o","t":-0.1,"m":0.45,"lo":0.05,"hi":0.9},{"p":"iii","c":"o","t":-0.02,"m":0.72,"lo":0.22,"hi":1.2},{"p":"iii","c":"o","t":0.04,"m":0.66,"lo":0.2,"hi":1.05},{"p":"iii","c":"o","t":0.1,"m":0.41,"lo":0.05,"hi":0.75},{"p":"iii","c":"o","t":0.2,"m":0.17,"lo":0,"hi":0.45},{"p":"iii","c":"o","t":0.28,"m":0,"lo":0,"hi":0.2},{"p":"iii","c":"o","t":0.34,"m":0,"lo":0,"hi":0.25},{"p":"iii","c":"o","t":0.4,"m":0.2,"lo":0,"hi":0.5},{"p":"iii","c":"o","t":0.48,"m":0.41,"lo":0,"hi":0.85},{"p":"iii","c":"o","t":0.54,"m":0.45,"lo":0.05,"hi":1.1},{"p":"iii","c":"o","t":0.6,"m":0.95,"lo":0.3,"hi":1.7},{"p":"iii","c":"o","t":0.66,"m":1.45,"lo":0.7,"hi":2.2},{"p":"iii","c":"o","t":0.72,"m":2.03,"lo":1.15,"hi":2.7},{"p":"iii","c":"o","t":0.78,"m":2.07,"lo":1.3,"hi":2.95},{"p":"iii","c":"o","t":0.82,"m":1.95,"lo":1.2,"hi":2.85},{"p":"iii","c":"o","t":0.88,"m":1.61,"lo":1.0,"hi":2.4},{"p":"iii","c":"o","t":0.94,"m":1.24,"lo":0.65,"hi":1.85},{"p":"iii","c":"o","t":0.98,"m":1.12,"lo":0.6,"hi":1.7},{"p":"iii","c":"o","t":1.02,"m":1.37,"lo":0.75,"hi":2.1},{"p":"iii","c":"o","t":1.08,"m":1.95,"lo":1.0,"hi":2.8},{"p":"iii","c":"o","t":1.14,"m":1.95,"lo":1.2,"hi":3.0},{"p":"iii","c":"o","t":1.2,"m":2.28,"lo":1.3,"hi":3.25},{"p":"iii","c":"o","t":1.26,"m":2.28,"lo":1.35,"hi":3.2},{"p":"iii","c":"o","t":1.32,"m":2.48,"lo":1.45,"hi":3.5},{"p":"iii","c":"o","t":1.38,"m":2.65,"lo":1.6,"hi":3.6},{"p":"iii","c":"o","t":1.42,"m":2.57,"lo":1.5,"hi":3.55},{"p":"iii","c":"o","t":1.46,"m":2.11,"lo":1.2,"hi":3.3},{"p":"iii","c":"o","t":1.52,"m":1.45,"lo":0.8,"hi":2.8},{"p":"iii","c":"o","t":1.58,"m":0.91,"lo":0.45,"hi":2.1},{"p":"iii","c":"o","t":1.66,"m":0.62,"lo":0.15,"hi":1.5},{"p":"iii","c":"o","t":1.74,"m":0.45,"lo":0.02,"hi":1.2},{"p":"iii","c":"o","t":1.84,"m":0.25,"lo":0,"hi":0.9},{"p":"iii","c":"o","t":1.9,"m":0.22,"lo":0,"hi":0.65},{"p":"iii","c":"o","t":1.96,"m":0.45,"lo":0,"hi":0.95},{"p":"iii","c":"o","t":2.02,"m":0.83,"lo":0.15,"hi":1.5},{"p":"iii","c":"o","t":2.1,"m":1.28,"lo":0.5,"hi":2.0},{"p":"iii","c":"o","t":2.16,"m":1.74,"lo":1.0,"hi":2.4},{"p":"iii","c":"o","t":2.22,"m":1.74,"lo":1.1,"hi":2.35},{"p":"iii","c":"o","t":2.28,"m":1.74,"lo":1.0,"hi":2.4},{"p":"iii","c":"o","t":2.34,"m":1.45,"lo":0.85,"hi":2.2},{"p":"iii","c":"o","t":2.42,"m":1.08,"lo":0.5,"hi":1.7},{"p":"iii","c":"o","t":2.5,"m":0.79,"lo":0.25,"hi":1.35},

{"p":"iv","c":"w","t":-0.5,"m":2.8,"lo":2.0,"hi":3.7},{"p":"iv","c":"w","t":-0.443,"m":2.5,"lo":1.8,"hi":3.5},{"p":"iv","c":"w","t":-0.383,"m":2.3,"lo":1.4,"hi":3.2},{"p":"iv","c":"w","t":-0.303,"m":1.9,"lo":1.2,"hi":3.0},{"p":"iv","c":"w","t":-0.223,"m":1.9,"lo":1.0,"hi":2.9},{"p":"iv","c":"w","t":-0.164,"m":1.6,"lo":0.7,"hi":2.8},{"p":"iv","c":"w","t":-0.104,"m":1.3,"lo":0.3,"hi":2.5},{"p":"iv","c":"w","t":-0.044,"m":1.3,"lo":0,"hi":2.3},{"p":"iv","c":"w","t":0.016,"m":1.3,"lo":0,"hi":2.4},{"p":"iv","c":"w","t":0.076,"m":1.2,"lo":0.1,"hi":2.6},{"p":"iv","c":"w","t":0.136,"m":1.7,"lo":0.5,"hi":3.8},{"p":"iv","c":"w","t":0.195,"m":2.6,"lo":1.2,"hi":6.0},{"p":"iv","c":"w","t":0.255,"m":4.0,"lo":2.3,"hi":8.0},{"p":"iv","c":"w","t":0.315,"m":5.5,"lo":3.3,"hi":9.3},{"p":"iv","c":"w","t":0.375,"m":6.8,"lo":4.0,"hi":10.1},{"p":"iv","c":"w","t":0.455,"m":7.8,"lo":5.2,"hi":10.5},{"p":"iv","c":"w","t":0.515,"m":8.0,"lo":5.7,"hi":10.6},{"p":"iv","c":"w","t":0.574,"m":8.2,"lo":6.0,"hi":10.3},{"p":"iv","c":"w","t":0.634,"m":8.3,"lo":6.1,"hi":10.8},{"p":"iv","c":"w","t":0.694,"m":8.6,"lo":6.4,"hi":11.0},{"p":"iv","c":"w","t":0.754,"m":8.8,"lo":6.5,"hi":10.5},{"p":"iv","c":"w","t":0.814,"m":9.1,"lo":6.4,"hi":10.6},{"p":"iv","c":"w","t":0.874,"m":8.8,"lo":6.1,"hi":10.3},{"p":"iv","c":"w","t":0.933,"m":8.2,"lo":5.7,"hi":10.0},{"p":"iv","c":"w","t":0.993,"m":7.5,"lo":5.2,"hi":9.5},{"p":"iv","c":"w","t":1.053,"m":6.5,"lo":4.7,"hi":8.3},{"p":"iv","c":"w","t":1.113,"m":6.4,"lo":4.4,"hi":7.9},{"p":"iv","c":"w","t":1.173,"m":6.5,"lo":4.9,"hi":8.5},{"p":"iv","c":"w","t":1.252,"m":7.0,"lo":5.3,"hi":8.7},{"p":"iv","c":"w","t":1.312,"m":7.1,"lo":5.3,"hi":8.6},{"p":"iv","c":"w","t":1.372,"m":6.8,"lo":5.1,"hi":8.4},{"p":"iv","c":"w","t":1.452,"m":6.5,"lo":4.8,"hi":8.0},{"p":"iv","c":"w","t":1.532,"m":6.1,"lo":4.4,"hi":7.5},{"p":"iv","c":"w","t":1.611,"m":5.6,"lo":4.0,"hi":6.9},{"p":"iv","c":"w","t":1.691,"m":5.0,"lo":3.2,"hi":6.3},{"p":"iv","c":"w","t":1.771,"m":4.5,"lo":2.6,"hi":5.8},{"p":"iv","c":"w","t":1.851,"m":3.8,"lo":1.9,"hi":5.3},{"p":"iv","c":"w","t":1.931,"m":3.4,"lo":2.0,"hi":4.8},{"p":"iv","c":"w","t":2.01,"m":3.3,"lo":2.2,"hi":4.4},{"p":"iv","c":"w","t":2.07,"m":3.6,"lo":2.7,"hi":4.6},{"p":"iv","c":"w","t":2.15,"m":4.2,"lo":3.3,"hi":5.8},{"p":"iv","c":"w","t":2.23,"m":4.6,"lo":3.4,"hi":6.0},{"p":"iv","c":"w","t":2.31,"m":4.6,"lo":3.3,"hi":5.9},{"p":"iv","c":"w","t":2.369,"m":4.5,"lo":3.2,"hi":5.8},{"p":"iv","c":"w","t":2.429,"m":4.1,"lo":3.1,"hi":5.3},{"p":"iv","c":"w","t":2.497,"m":4.4,"lo":3.2,"hi":5.7},
{"p":"iv","c":"o","t":-0.5,"m":1.09,"lo":0.5,"hi":1.8},{"p":"iv","c":"o","t":-0.423,"m":1.3,"lo":0.6,"hi":2.4},{"p":"iv","c":"o","t":-0.303,"m":1.4,"lo":0.7,"hi":2.2},{"p":"iv","c":"o","t":-0.223,"m":1.09,"lo":0.5,"hi":2.1},{"p":"iv","c":"o","t":-0.144,"m":0.78,"lo":0.3,"hi":1.9},{"p":"iv","c":"o","t":-0.084,"m":1.24,"lo":0.4,"hi":1.6},{"p":"iv","c":"o","t":-0.024,"m":2.0,"lo":1.0,"hi":2.6},{"p":"iv","c":"o","t":0.036,"m":2.48,"lo":1.8,"hi":3.6},{"p":"iv","c":"o","t":0.096,"m":2.7,"lo":2.1,"hi":3.8},{"p":"iv","c":"o","t":0.176,"m":3.32,"lo":2.6,"hi":4.6},{"p":"iv","c":"o","t":0.255,"m":4.35,"lo":3.3,"hi":5.6},{"p":"iv","c":"o","t":0.335,"m":5.12,"lo":4.0,"hi":6.6},{"p":"iv","c":"o","t":0.395,"m":5.43,"lo":3.8,"hi":6.5},{"p":"iv","c":"o","t":0.447,"m":4.8,"lo":3.4,"hi":6.1},{"p":"iv","c":"o","t":0.495,"m":4.35,"lo":3.3,"hi":5.9},{"p":"iv","c":"o","t":0.542,"m":4.97,"lo":3.6,"hi":6.4},{"p":"iv","c":"o","t":0.594,"m":5.75,"lo":4.3,"hi":7.2},{"p":"iv","c":"o","t":0.654,"m":6.37,"lo":4.9,"hi":7.8},{"p":"iv","c":"o","t":0.714,"m":6.68,"lo":5.1,"hi":7.8},{"p":"iv","c":"o","t":0.774,"m":6.27,"lo":4.9,"hi":7.4},{"p":"iv","c":"o","t":0.854,"m":6.0,"lo":4.7,"hi":7.2},{"p":"iv","c":"o","t":0.933,"m":5.8,"lo":4.5,"hi":7.0},{"p":"iv","c":"o","t":0.993,"m":5.5,"lo":4.3,"hi":6.7},{"p":"iv","c":"o","t":1.053,"m":4.66,"lo":3.5,"hi":5.9},{"p":"iv","c":"o","t":1.113,"m":4.04,"lo":3.0,"hi":5.3},{"p":"iv","c":"o","t":1.173,"m":3.73,"lo":2.6,"hi":5.0},{"p":"iv","c":"o","t":1.252,"m":3.57,"lo":2.5,"hi":4.8},{"p":"iv","c":"o","t":1.332,"m":3.57,"lo":2.5,"hi":4.7},{"p":"iv","c":"o","t":1.412,"m":3.42,"lo":2.3,"hi":4.6},{"p":"iv","c":"o","t":1.492,"m":3.42,"lo":2.2,"hi":4.4},{"p":"iv","c":"o","t":1.572,"m":2.89,"lo":1.8,"hi":3.9},{"p":"iv","c":"o","t":1.651,"m":2.17,"lo":1.2,"hi":3.3},{"p":"iv","c":"o","t":1.711,"m":1.86,"lo":1.0,"hi":3.0},{"p":"iv","c":"o","t":1.771,"m":2.0,"lo":1.0,"hi":3.0},{"p":"iv","c":"o","t":1.851,"m":2.0,"lo":1.1,"hi":3.1},{"p":"iv","c":"o","t":1.931,"m":2.33,"lo":1.4,"hi":3.3},{"p":"iv","c":"o","t":2.01,"m":2.08,"lo":1.3,"hi":3.0},{"p":"iv","c":"o","t":2.09,"m":1.86,"lo":1.0,"hi":3.0},{"p":"iv","c":"o","t":2.19,"m":1.71,"lo":0.6,"hi":2.8},{"p":"iv","c":"o","t":2.25,"m":1.09,"lo":0.3,"hi":2.2},{"p":"iv","c":"o","t":2.33,"m":1.34,"lo":0.5,"hi":1.9},{"p":"iv","c":"o","t":2.409,"m":1.55,"lo":0.7,"hi":2.1},{"p":"iv","c":"o","t":2.497,"m":1.49,"lo":0.7,"hi":2.2}
],
"wave":[
{"p":"i","s":0,"v":0,"lo":-17,"hi":17},{"p":"i","s":5,"v":-3,"lo":-20,"hi":14},{"p":"i","s":8,"v":-9,"lo":-26,"hi":8},{"p":"i","s":10,"v":-41,"lo":-53,"hi":-29},{"p":"i","s":12,"v":-128,"lo":-138,"hi":-118},{"p":"i","s":13,"v":-172,"lo":-180,"hi":-164},{"p":"i","s":14,"v":-203,"lo":-208,"hi":-198},{"p":"i","s":15,"v":-191,"lo":-198,"hi":-184},{"p":"i","s":17,"v":-141,"lo":-151,"hi":-131},{"p":"i","s":19,"v":-97,"lo":-110,"hi":-84},{"p":"i","s":21,"v":-63,"lo":-77,"hi":-49},{"p":"i","s":23,"v":-41,"lo":-57,"hi":-25},{"p":"i","s":25,"v":-22,"lo":-38,"hi":-6},{"p":"i","s":28,"v":-3,"lo":-19,"hi":13},{"p":"i","s":32,"v":25,"lo":8,"hi":42},
{"p":"ii","s":0,"v":0,"lo":-15,"hi":15},{"p":"ii","s":5,"v":-3,"lo":-18,"hi":12},{"p":"ii","s":7,"v":-10,"lo":-25,"hi":5},{"p":"ii","s":8,"v":-25,"lo":-37,"hi":-13},{"p":"ii","s":10,"v":-73,"lo":-82,"hi":-64},{"p":"ii","s":12,"v":-127,"lo":-134,"hi":-120},{"p":"ii","s":13,"v":-148,"lo":-153,"hi":-143},{"p":"ii","s":14,"v":-146,"lo":-152,"hi":-140},{"p":"ii","s":16,"v":-128,"lo":-137,"hi":-119},{"p":"ii","s":18,"v":-105,"lo":-117,"hi":-93},{"p":"ii","s":22,"v":-70,"lo":-87,"hi":-53},{"p":"ii","s":26,"v":-43,"lo":-63,"hi":-23},{"p":"ii","s":30,"v":-24,"lo":-47,"hi":-1},{"p":"ii","s":34,"v":-8,"lo":-32,"hi":16},
{"p":"iii","s":0,"v":0,"lo":-19,"hi":19},{"p":"iii","s":6,"v":-3,"lo":-22,"hi":16},{"p":"iii","s":10,"v":-13,"lo":-32,"hi":6},{"p":"iii","s":13,"v":-60,"lo":-72,"hi":-48},{"p":"iii","s":15,"v":-97,"lo":-102,"hi":-92},{"p":"iii","s":17,"v":-67,"lo":-79,"hi":-55},{"p":"iii","s":19,"v":-20,"lo":-39,"hi":-1},{"p":"iii","s":23,"v":-3,"lo":-27,"hi":21},{"p":"iii","s":30,"v":3,"lo":-22,"hi":28},{"p":"iii","s":35,"v":3,"lo":-22,"hi":28},
{"p":"iv","s":0,"v":0,"lo":-17,"hi":17},{"p":"iv","s":8,"v":-1,"lo":-18,"hi":16},{"p":"iv","s":10,"v":-13,"lo":-27,"hi":1},{"p":"iv","s":12,"v":-43,"lo":-50,"hi":-36},{"p":"iv","s":13,"v":-57,"lo":-61,"hi":-53},{"p":"iv","s":14,"v":-57,"lo":-61,"hi":-53},{"p":"iv","s":15,"v":-39,"lo":-46,"hi":-32},{"p":"iv","s":17,"v":-7,"lo":-19,"hi":5},{"p":"iv","s":19,"v":7,"lo":-9,"hi":23},{"p":"iv","s":24,"v":11,"lo":-8,"hi":30},{"p":"iv","s":32,"v":11,"lo":-8,"hi":30},{"p":"iv","s":34,"v":11,"lo":-8,"hi":30}
]
},
"concat":[
 {"width":251,"height":161,
  "title":{"text":"Olfactory cortex","anchor":"start","frame":"group","fontSize":22,"fontWeight":"normal","baseline":"alphabetic","offset":-9,"color":"#1a1a1a"},
  "layer":[
   {"data":{"name":"raster"},"transform":[{"filter":"datum.p=='i'"}],
    "mark":{"type":"tick","orient":"vertical","size":7,"thickness":1,"opacity":1},
    "encoding":{
     "x":{"field":"t","type":"quantitative","scale":{"domain":[-0.5,2.5],"nice":false,"zero":false},"axis":{"values":[-0.5,0,0.5,1,1.5,2,2.5],"labels":false,"title":null}},
     "y":{"field":"k","type":"quantitative","scale":{"domain":[0.3,21],"reverse":true,"nice":false,"zero":false},"axis":{"ticks":false,"labels":false,"title":"Trial","titleX":-38,"titleBaseline":"alphabetic"}},
     "color":{"field":"c","type":"nominal","scale":{"domain":["w","o"],"range":["#8a8a8a","#8d93c9"]},"legend":null}}},
   {"data":{"values":[{}]},"mark":{"type":"rule","color":"#1a1a1a","strokeWidth":1},"encoding":{"x":{"datum":0}}},
   {"data":{"values":[{}]},"mark":{"type":"text","text":"i","fontSize":30,"fontWeight":600,"baseline":"alphabetic","align":"center","color":"#1a1a1a"},"encoding":{"x":{"datum":-0.25},"y":{"datum":3.4}}}
  ]},
 {"width":251,"height":161,
  "layer":[
   {"data":{"name":"raster"},"transform":[{"filter":"datum.p=='ii'"}],
    "mark":{"type":"tick","orient":"vertical","size":7,"thickness":1,"opacity":1},
    "encoding":{
     "x":{"field":"t","type":"quantitative","scale":{"domain":[-0.5,2.5],"nice":false,"zero":false},"axis":{"values":[-0.5,0,0.5,1,1.5,2,2.5],"labels":false,"title":null}},
     "y":{"field":"k","type":"quantitative","scale":{"domain":[0.3,21],"reverse":true,"nice":false,"zero":false},"axis":{"ticks":false,"labels":false,"title":null}},
     "color":{"field":"c","type":"nominal","scale":{"domain":["w","o"],"range":["#8a8a8a","#8d93c9"]},"legend":null}}},
   {"data":{"values":[{}]},"mark":{"type":"rule","color":"#1a1a1a","strokeWidth":1},"encoding":{"x":{"datum":0}}},
   {"data":{"values":[{}]},"mark":{"type":"text","text":"ii","fontSize":30,"fontWeight":600,"baseline":"alphabetic","align":"center","color":"#1a1a1a"},"encoding":{"x":{"datum":-0.24},"y":{"datum":3.4}}}
  ]},
 {"width":251,"height":161,
  "layer":[
   {"encoding":{"x":{"field":"t","type":"quantitative","scale":{"domain":[-0.5,2.5],"nice":false,"zero":false},"axis":{"values":[-0.5,0,0.5,1,1.5,2,2.5],"labels":false,"title":null}}},
    "layer":[
     {"data":{"name":"rate"},"transform":[{"filter":"datum.p=='i' && datum.c=='w'"}],"mark":{"type":"area","opacity":0.3},
      "encoding":{"y":{"field":"lo","type":"quantitative","scale":{"domain":[0,8],"nice":false,"zero":false},"axis":{"values":[0,2,4,6,8],"title":"Firing rate [spikes/s]","titleX":-38,"titleBaseline":"alphabetic"}},"y2":{"field":"hi"},
       "fill":{"field":"c","type":"nominal","scale":{"domain":["w","o"],"range":["#9aa0a0","#9ba0dc"]},"legend":null}}},
     {"data":{"name":"rate"},"transform":[{"filter":"datum.p=='i' && datum.c=='o'"}],"mark":{"type":"area","opacity":0.3},
      "encoding":{"y":{"field":"lo","type":"quantitative","title":"Firing rate [spikes/s]"},"y2":{"field":"hi"},
       "fill":{"field":"c","type":"nominal","legend":null}}},
     {"data":{"name":"rate"},"transform":[{"filter":"datum.p=='i'"},{"fold":["lo","hi"],"as":["edge","val"]}],"mark":{"type":"line","strokeWidth":0.9,"opacity":0.5},
      "encoding":{"y":{"field":"val","type":"quantitative","title":"Firing rate [spikes/s]"},"detail":{"field":"edge"},
       "color":{"field":"c","type":"nominal","scale":{"domain":["w","o"],"range":["#666666","#7b82c2"]},"legend":null}}},
     {"data":{"name":"rate"},"transform":[{"filter":"datum.p=='i' && datum.c=='w'"}],"mark":{"type":"line","strokeWidth":1.5},
      "encoding":{"y":{"field":"m","type":"quantitative","title":"Firing rate [spikes/s]"},"color":{"field":"c","type":"nominal","legend":null}}},
     {"data":{"name":"rate"},"transform":[{"filter":"datum.p=='i' && datum.c=='o'"}],"mark":{"type":"line","strokeWidth":3},
      "encoding":{"y":{"field":"m","type":"quantitative","title":"Firing rate [spikes/s]"},"color":{"field":"c","type":"nominal","legend":null}}},
     {"data":{"values":[{}]},"mark":{"type":"rule","color":"#1a1a1a","strokeWidth":1},"encoding":{"x":{"datum":0}}}
    ]},
   {"layer":[
     {"data":{"name":"wave"},"transform":[{"filter":"datum.p=='i'"}],"mark":{"type":"area","color":"#111111","clip":false},
      "encoding":{"x":{"field":"s","type":"quantitative","scale":{"domain":[-64.36,18.48],"nice":false,"zero":false},"axis":null},
       "y":{"field":"lo","type":"quantitative","scale":{"domain":[-584.4,-81.25],"nice":false,"zero":false},"axis":null},"y2":{"field":"hi"}}},
     {"data":{"name":"wave"},"transform":[{"filter":"datum.p=='i'"}],"mark":{"type":"line","color":"#111111","strokeWidth":6,"strokeJoin":"round","strokeCap":"butt","clip":false},
      "encoding":{"x":{"field":"s","type":"quantitative","axis":null},"y":{"field":"v","type":"quantitative","axis":null}}},
     {"data":{"values":[{}]},"mark":{"type":"rule","color":"#111111","strokeWidth":1.3,"clip":false},"encoding":{"x":{"datum":7.6},"y":{"datum":-206},"y2":{"datum":-106}}},
     {"data":{"values":[{}]},"mark":{"type":"text","text":"100 µV","angle":270,"fontSize":13,"align":"center","baseline":"middle","color":"#1a1a1a","clip":false},"encoding":{"x":{"datum":3.3},"y":{"datum":-167}}},
     {"data":{"values":[{}]},"mark":{"type":"rule","color":"#666666","strokeWidth":4,"clip":false,"yOffset":-32},"encoding":{"x":{"datum":-50.5},"x2":{"datum":-42.9},"y":{"datum":-81.25}}},
     {"data":{"values":[{}]},"mark":{"type":"rule","color":"#7b82c2","strokeWidth":4,"clip":false,"yOffset":-13},"encoding":{"x":{"datum":-50.5},"x2":{"datum":-42.9},"y":{"datum":-81.25}}},
     {"data":{"values":[{}]},"mark":{"type":"text","text":"Plain water","fontSize":14.5,"align":"left","baseline":"middle","color":"#1a1a1a","clip":false,"yOffset":-32},"encoding":{"x":{"datum":-40.6},"y":{"datum":-81.25}}},
     {"data":{"values":[{}]},"mark":{"type":"text","text":"Odor solution","fontSize":14.5,"align":"left","baseline":"middle","color":"#1a1a1a","clip":false,"yOffset":-13},"encoding":{"x":{"datum":-40.6},"y":{"datum":-81.25}}}
   ]}
  ],
  "resolve":{"scale":{"x":"independent","y":"independent"}}},

 {"width":251,"height":161,
  "layer":[
   {"encoding":{"x":{"field":"t","type":"quantitative","scale":{"domain":[-0.5,2.5],"nice":false,"zero":false},"axis":{"values":[-0.5,0,0.5,1,1.5,2,2.5],"labels":false,"title":null}}},
    "layer":[
     {"data":{"name":"rate"},"transform":[{"filter":"datum.p=='ii' && datum.c=='w'"}],"mark":{"type":"area","opacity":0.3},
      "encoding":{"y":{"field":"lo","type":"quantitative","scale":{"domain":[0,8],"nice":false,"zero":false},"axis":{"values":[0,2,4,6,8],"title":null}},"y2":{"field":"hi"},
       "fill":{"field":"c","type":"nominal","scale":{"domain":["w","o"],"range":["#9aa0a0","#9ba0dc"]},"legend":null}}},
     {"data":{"name":"rate"},"transform":[{"filter":"datum.p=='ii' && datum.c=='o'"}],"mark":{"type":"area","opacity":0.3},
      "encoding":{"y":{"field":"lo","type":"quantitative","title":null},"y2":{"field":"hi"},
       "fill":{"field":"c","type":"nominal","legend":null}}},
     {"data":{"name":"rate"},"transform":[{"filter":"datum.p=='ii'"},{"fold":["lo","hi"],"as":["edge","val"]}],"mark":{"type":"line","strokeWidth":0.9,"opacity":0.5},
      "encoding":{"y":{"field":"val","type":"quantitative","title":null},"detail":{"field":"edge"},
       "color":{"field":"c","type":"nominal","scale":{"domain":["w","o"],"range":["#666666","#7b82c2"]},"legend":null}}},
     {"data":{"name":"rate"},"transform":[{"filter":"datum.p=='ii' && datum.c=='w'"}],"mark":{"type":"line","strokeWidth":1.5},
      "encoding":{"y":{"field":"m","type":"quantitative","title":null},"color":{"field":"c","type":"nominal","legend":null}}},
     {"data":{"name":"rate"},"transform":[{"filter":"datum.p=='ii' && datum.c=='o'"}],"mark":{"type":"line","strokeWidth":3},
      "encoding":{"y":{"field":"m","type":"quantitative","title":null},"color":{"field":"c","type":"nominal","legend":null}}},
     {"data":{"values":[{}]},"mark":{"type":"rule","color":"#1a1a1a","strokeWidth":1},"encoding":{"x":{"datum":0}}}
    ]},
   {"layer":[
     {"data":{"name":"wave"},"transform":[{"filter":"datum.p=='ii'"}],"mark":{"type":"area","color":"#111111","clip":false},
      "encoding":{"x":{"field":"s","type":"quantitative","scale":{"domain":[-92.8,7.6],"nice":false,"zero":false},"axis":null},
       "y":{"field":"lo","type":"quantitative","scale":{"domain":[-513.5,-78.4],"nice":false,"zero":false},"axis":null},"y2":{"field":"hi"}}},
     {"data":{"name":"wave"},"transform":[{"filter":"datum.p=='ii'"}],"mark":{"type":"line","color":"#111111","strokeWidth":6,"strokeJoin":"round","strokeCap":"butt","clip":false},
      "encoding":{"x":{"field":"s","type":"quantitative","axis":null},"y":{"field":"v","type":"quantitative","axis":null}}},
     {"data":{"values":[{}]},"mark":{"type":"rule","color":"#111111","strokeWidth":1.3,"clip":false},"encoding":{"x":{"datum":5.6},"y":{"datum":-181},"y2":{"datum":-81}}},
     {"data":{"values":[{}]},"mark":{"type":"text","text":"100 µV","angle":270,"fontSize":13,"align":"center","baseline":"middle","color":"#1a1a1a","clip":false},"encoding":{"x":{"datum":0.8},"y":{"datum":-145}}}
   ]}
  ],
  "resolve":{"scale":{"x":"independent","y":"independent"}}},

 {"width":251,"height":161,
  "title":{"text":"Gustatory cortex","anchor":"start","frame":"group","fontSize":22,"fontWeight":"normal","baseline":"alphabetic","offset":-9,"color":"#1a1a1a"},
  "layer":[
   {"data":{"name":"raster"},"transform":[{"filter":"datum.p=='iii'"}],
    "mark":{"type":"tick","orient":"vertical","size":7,"thickness":1,"opacity":1},
    "encoding":{
     "x":{"field":"t","type":"quantitative","scale":{"domain":[-0.5,2.5],"nice":false,"zero":false},"axis":{"values":[-0.5,0,0.5,1,1.5,2,2.5],"labels":false,"title":null}},
     "y":{"field":"k","type":"quantitative","scale":{"domain":[0.3,21],"reverse":true,"nice":false,"zero":false},"axis":{"ticks":false,"labels":false,"title":"Trial","titleX":-38,"titleBaseline":"alphabetic"}},
     "color":{"field":"c","type":"nominal","scale":{"domain":["w","o"],"range":["#808080","#ee8a92"]},"legend":null}}},
   {"data":{"values":[{}]},"mark":{"type":"rule","color":"#1a1a1a","strokeWidth":1},"encoding":{"x":{"datum":0}}},
   {"data":{"values":[{}]},"mark":{"type":"text","text":"iii","fontSize":30,"fontWeight":600,"baseline":"alphabetic","align":"center","color":"#1a1a1a"},"encoding":{"x":{"datum":-0.25},"y":{"datum":3.6}}}
  ]},
 {"width":251,"height":161,
  "layer":[
   {"data":{"name":"raster"},"transform":[{"filter":"datum.p=='iv'"}],
    "mark":{"type":"tick","orient":"vertical","size":7,"thickness":1,"opacity":1},
    "encoding":{
     "x":{"field":"t","type":"quantitative","scale":{"domain":[-0.5,2.5],"nice":false,"zero":false},"axis":{"values":[-0.5,0,0.5,1,1.5,2,2.5],"labels":false,"title":null}},
     "y":{"field":"k","type":"quantitative","scale":{"domain":[0.3,21],"reverse":true,"nice":false,"zero":false},"axis":{"ticks":false,"labels":false,"title":null}},
     "color":{"field":"c","type":"nominal","scale":{"domain":["w","o"],"range":["#5e5e5e","#ee8a92"]},"legend":null}}},
   {"data":{"values":[{}]},"mark":{"type":"rule","color":"#1a1a1a","strokeWidth":1},"encoding":{"x":{"datum":0}}},
   {"data":{"values":[{}]},"mark":{"type":"text","text":"iv","fontSize":30,"fontWeight":600,"baseline":"alphabetic","align":"center","color":"#1a1a1a"},"encoding":{"x":{"datum":-0.24},"y":{"datum":3.6}}}
  ]},

 {"width":251,"height":161,
  "layer":[
   {"encoding":{"x":{"field":"t","type":"quantitative","scale":{"domain":[-0.5,2.5],"nice":false,"zero":false},"axis":{"values":[-0.5,0,0.5,1,1.5,2,2.5],"labelExpr":"replace(format(datum.value,'~g'),'\u2212','-')","title":"Time re/ stimulus delivery [s]","titleFontSize":14,"titleY":47.5,"titleBaseline":"alphabetic"}}},
    "layer":[
     {"data":{"name":"rate"},"transform":[{"filter":"datum.p=='iii' && datum.c=='w'"}],"mark":{"type":"area","opacity":0.3},
      "encoding":{"y":{"field":"lo","type":"quantitative","scale":{"domain":[0,4],"nice":false,"zero":false},"axis":{"values":[0,1,2,3,4],"title":"Firing rate [spikes/s]","titleX":-38,"titleBaseline":"alphabetic"}},"y2":{"field":"hi"},
       "fill":{"field":"c","type":"nominal","scale":{"domain":["w","o"],"range":["#9aa0a0","#f08080"]},"legend":null}}},
     {"data":{"name":"rate"},"transform":[{"filter":"datum.p=='iii' && datum.c=='o'"}],"mark":{"type":"area","opacity":0.3},
      "encoding":{"y":{"field":"lo","type":"quantitative","title":"Firing rate [spikes/s]"},"y2":{"field":"hi"},
       "fill":{"field":"c","type":"nominal","legend":null}}},
     {"data":{"name":"rate"},"transform":[{"filter":"datum.p=='iii'"},{"fold":["lo","hi"],"as":["edge","val"]}],"mark":{"type":"line","strokeWidth":0.9,"opacity":0.5},
      "encoding":{"y":{"field":"val","type":"quantitative","title":"Firing rate [spikes/s]"},"detail":{"field":"edge"},
       "color":{"field":"c","type":"nominal","scale":{"domain":["w","o"],"range":["#666666","#ef785c"]},"legend":null}}},
     {"data":{"name":"rate"},"transform":[{"filter":"datum.p=='iii' && datum.c=='w'"}],"mark":{"type":"line","strokeWidth":1.5},
      "encoding":{"y":{"field":"m","type":"quantitative","title":"Firing rate [spikes/s]"},"color":{"field":"c","type":"nominal","legend":null}}},
     {"data":{"name":"rate"},"transform":[{"filter":"datum.p=='iii' && datum.c=='o'"}],"mark":{"type":"line","strokeWidth":3},
      "encoding":{"y":{"field":"m","type":"quantitative","title":"Firing rate [spikes/s]"},"color":{"field":"c","type":"nominal","legend":null}}},
     {"data":{"values":[{}]},"mark":{"type":"rule","color":"#1a1a1a","strokeWidth":1},"encoding":{"x":{"datum":0}}}
    ]},
   {"layer":[
     {"data":{"name":"wave"},"transform":[{"filter":"datum.p=='iii'"}],"mark":{"type":"area","color":"#111111","clip":false},
      "encoding":{"x":{"field":"s","type":"quantitative","scale":{"domain":[-60.67,23],"nice":false,"zero":false},"axis":null},
       "y":{"field":"lo","type":"quantitative","scale":{"domain":[-596.7,-60],"nice":false,"zero":false},"axis":null},"y2":{"field":"hi"}}},
     {"data":{"name":"wave"},"transform":[{"filter":"datum.p=='iii'"}],"mark":{"type":"line","color":"#111111","strokeWidth":5,"strokeJoin":"round","strokeCap":"butt","clip":false},
      "encoding":{"x":{"field":"s","type":"quantitative","axis":null},"y":{"field":"v","type":"quantitative","axis":null}}},
     {"data":{"values":[{}]},"mark":{"type":"rule","color":"#111111","strokeWidth":1.3,"clip":false},"encoding":{"x":{"datum":6.7},"y":{"datum":-183},"y2":{"datum":-133}}},
     {"data":{"values":[{}]},"mark":{"type":"text","text":"50 µV","angle":270,"fontSize":13,"align":"center","baseline":"middle","color":"#1a1a1a","clip":false},"encoding":{"x":{"datum":2.7},"y":{"datum":-148}}},
     {"data":{"values":[{}]},"mark":{"type":"rule","color":"#666666","strokeWidth":4,"clip":false,"yOffset":-32},"encoding":{"x":{"datum":-46.67},"x2":{"datum":-39},"y":{"datum":-60}}},
     {"data":{"values":[{}]},"mark":{"type":"rule","color":"#ef785c","strokeWidth":4,"clip":false,"yOffset":-12.5},"encoding":{"x":{"datum":-46.67},"x2":{"datum":-39},"y":{"datum":-60}}},
     {"data":{"values":[{}]},"mark":{"type":"text","text":"Plain water","fontSize":14.5,"align":"left","baseline":"middle","color":"#1a1a1a","clip":false,"yOffset":-32},"encoding":{"x":{"datum":-36.67},"y":{"datum":-60}}},
     {"data":{"values":[{}]},"mark":{"type":"text","text":"Odor solution","fontSize":14.5,"align":"left","baseline":"middle","color":"#1a1a1a","clip":false,"yOffset":-12.5},"encoding":{"x":{"datum":-36.67},"y":{"datum":-60}}}
   ]}
  ],
  "resolve":{"scale":{"x":"independent","y":"independent"}}},

 {"width":251,"height":161,
  "layer":[
   {"encoding":{"x":{"field":"t","type":"quantitative","scale":{"domain":[-0.5,2.5],"nice":false,"zero":false},"axis":{"values":[-0.5,0,0.5,1,1.5,2,2.5],"labelExpr":"replace(format(datum.value,'~g'),'\u2212','-')","title":"Time re/ stimulus delivery [s]","titleFontSize":14,"titleY":47.5,"titleBaseline":"alphabetic"}}},
    "layer":[
     {"data":{"name":"rate"},"transform":[{"filter":"datum.p=='iv' && datum.c=='w'"}],"mark":{"type":"area","opacity":0.3},
      "encoding":{"y":{"field":"lo","type":"quantitative","scale":{"domain":[0,15],"nice":false,"zero":false},"axis":{"values":[0,5,10,15],"title":null}},"y2":{"field":"hi"},
       "fill":{"field":"c","type":"nominal","scale":{"domain":["w","o"],"range":["#9aa0a0","#f08080"]},"legend":null}}},
     {"data":{"name":"rate"},"transform":[{"filter":"datum.p=='iv' && datum.c=='o'"}],"mark":{"type":"area","opacity":0.3},
      "encoding":{"y":{"field":"lo","type":"quantitative","title":null},"y2":{"field":"hi"},
       "fill":{"field":"c","type":"nominal","legend":null}}},
     {"data":{"name":"rate"},"transform":[{"filter":"datum.p=='iv'"},{"fold":["lo","hi"],"as":["edge","val"]}],"mark":{"type":"line","strokeWidth":0.9,"opacity":0.5},
      "encoding":{"y":{"field":"val","type":"quantitative","title":null},"detail":{"field":"edge"},
       "color":{"field":"c","type":"nominal","scale":{"domain":["w","o"],"range":["#666666","#ef785c"]},"legend":null}}},
     {"data":{"name":"rate"},"transform":[{"filter":"datum.p=='iv' && datum.c=='w'"}],"mark":{"type":"line","strokeWidth":1.5},
      "encoding":{"y":{"field":"m","type":"quantitative","title":null},"color":{"field":"c","type":"nominal","legend":null}}},
     {"data":{"name":"rate"},"transform":[{"filter":"datum.p=='iv' && datum.c=='o'"}],"mark":{"type":"line","strokeWidth":3},
      "encoding":{"y":{"field":"m","type":"quantitative","title":null},"color":{"field":"c","type":"nominal","legend":null}}},
     {"data":{"values":[{}]},"mark":{"type":"rule","color":"#1a1a1a","strokeWidth":1},"encoding":{"x":{"datum":0}}}
    ]},
   {"layer":[
     {"data":{"name":"wave"},"transform":[{"filter":"datum.p=='iv'"}],"mark":{"type":"area","color":"#111111","clip":false},
      "encoding":{"x":{"field":"s","type":"quantitative","scale":{"domain":[-70.67,13],"nice":false,"zero":false},"axis":null},
       "y":{"field":"lo","type":"quantitative","scale":{"domain":[-232.9,-21],"nice":false,"zero":false},"axis":null},"y2":{"field":"hi"}}},
     {"data":{"name":"wave"},"transform":[{"filter":"datum.p=='iv'"}],"mark":{"type":"line","color":"#111111","strokeWidth":7,"strokeJoin":"round","strokeCap":"butt","clip":false},
      "encoding":{"x":{"field":"s","type":"quantitative","axis":null},"y":{"field":"v","type":"quantitative","axis":null}}},
     {"data":{"values":[{}]},"mark":{"type":"rule","color":"#111111","strokeWidth":1.3,"clip":false},"encoding":{"x":{"datum":7.7},"y":{"datum":-89.5},"y2":{"datum":-39.5}}},
     {"data":{"values":[{}]},"mark":{"type":"text","text":"50 µV","angle":270,"fontSize":13,"align":"center","baseline":"middle","color":"#1a1a1a","clip":false},"encoding":{"x":{"datum":3.3},"y":{"datum":-67}}}
   ]}
  ],
  "resolve":{"scale":{"x":"independent","y":"independent"}}}
]
}
